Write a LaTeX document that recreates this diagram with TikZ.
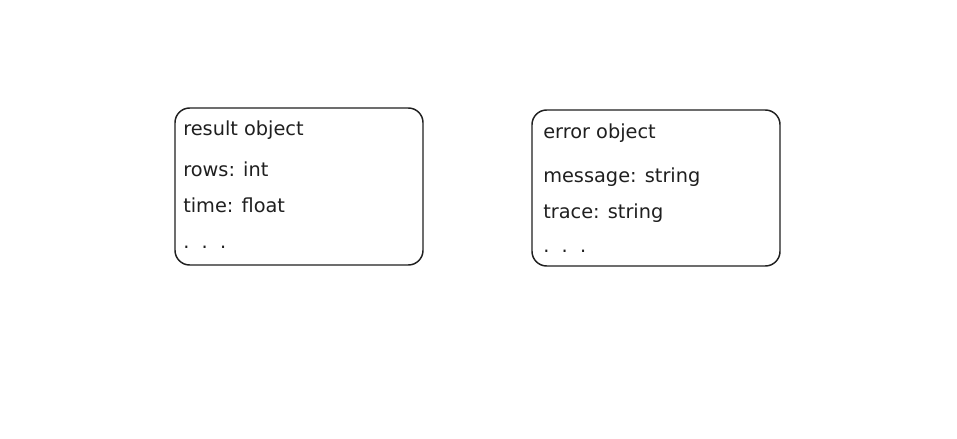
\documentclass[tikz,border=0pt]{standalone}
\usepackage{fontspec}
\setmainfont{DejaVu Sans}
\usepackage{xcolor}
\usepackage{tikz}
\usetikzlibrary{fit,calc}

\begin{document}
\begin{tikzpicture}[x=0.75pt,y=-0.75pt]
				\tikzset{obj/.style={draw=black!88,line width=1.1pt,rounded corners=11pt,inner sep=0pt}}
				\tikzset{field/.style={anchor=base west,inner sep=0pt,text=black!88,font=\fontsize{14.5}{16}\selectfont}}

				\useasboundingbox (0,0) rectangle (957,439);

				\node[fit={(175,108) (423,265)}, obj] (result) {};
				\node[field] (resname) at (183,135) {result object};
				\node[field] (resrows) at (183,176) {rows: int};
				\node[field] (restime) at (183,212) {time: float};
				\node[field] (resmore) at (183,248) {.\ \ .\ \ .};

				\node[fit={(532,110) (780,266)}, obj] (error) {};
				\node[field] (errname) at (543,138) {error object};
				\node[field] (errmsg) at (543,182) {message: string};
				\node[field] (errtrace) at (543,218) {trace: string};
				\node[field] (errmore) at (543,252) {.\ \ .\ \ .};

			\end{tikzpicture}
\end{document}
